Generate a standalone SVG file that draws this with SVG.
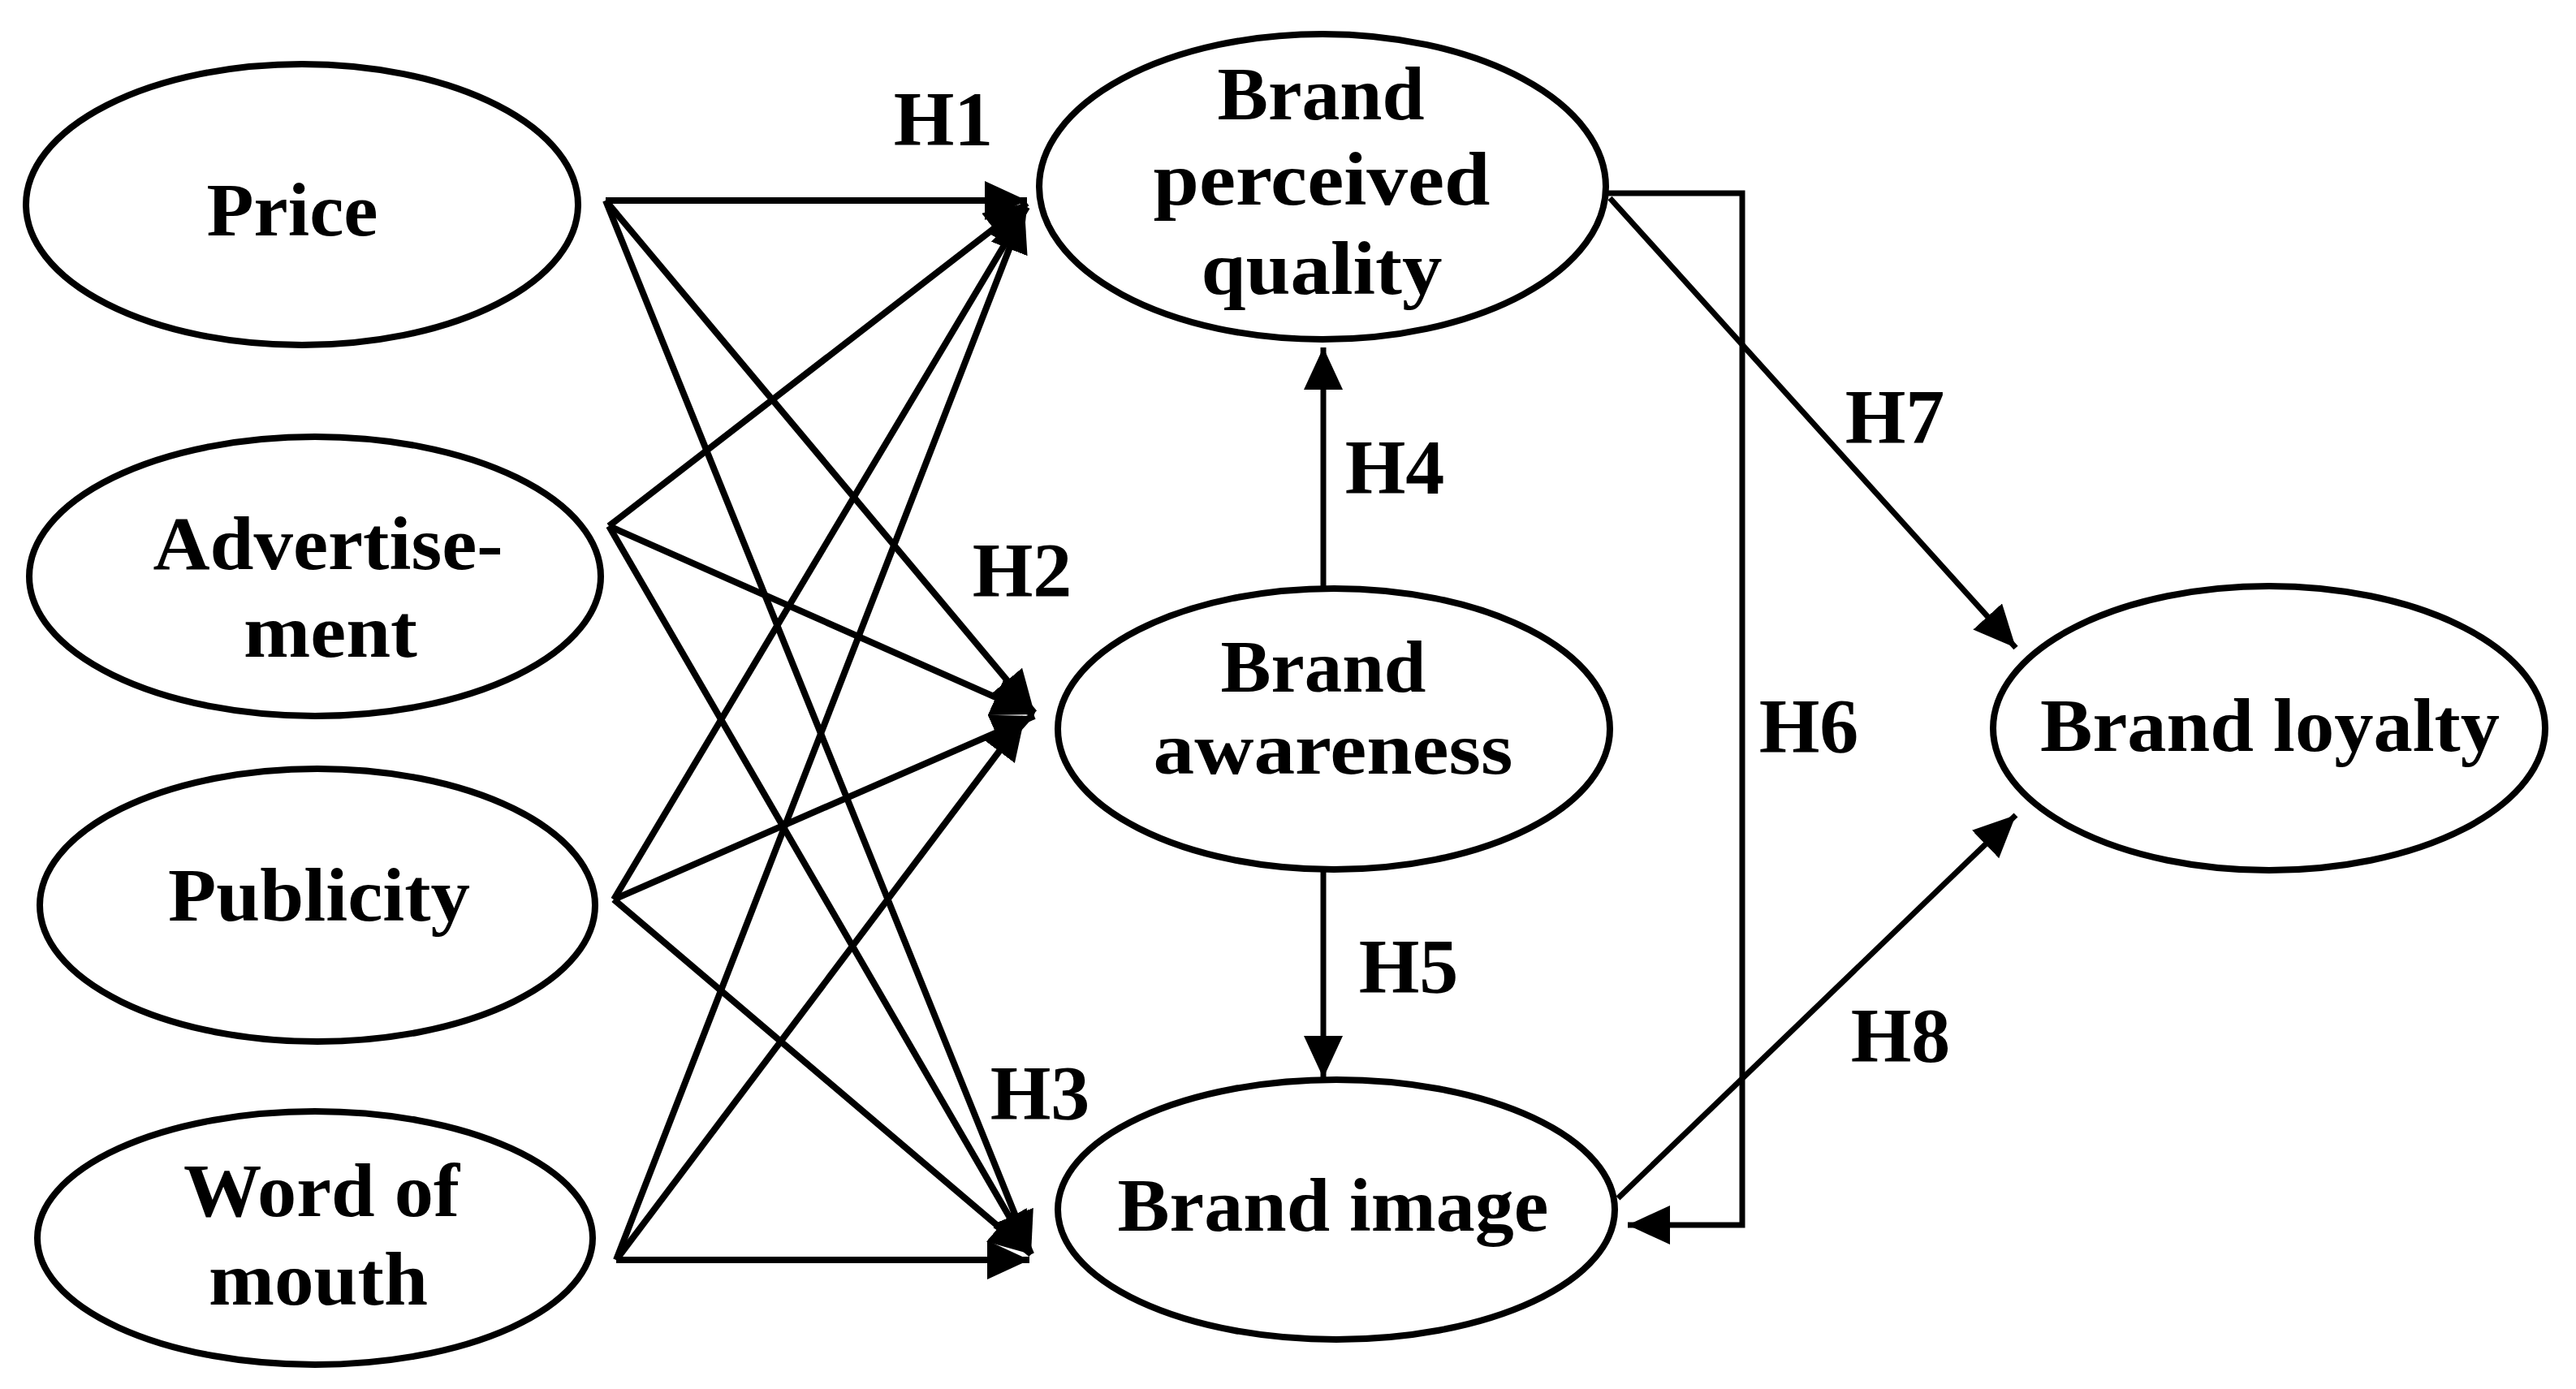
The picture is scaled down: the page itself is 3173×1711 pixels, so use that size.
<svg xmlns="http://www.w3.org/2000/svg" width="3173" height="1711" viewBox="0 0 3173 1711">
<style>
.node ellipse{fill:#fff;stroke:#000;stroke-width:8}
.node text{font-family:"Liberation Serif","Times New Roman",serif;font-weight:bold;font-size:94px;fill:#000;text-anchor:middle}
.node text.tight{font-size:90px}
.lbl{font-family:"Liberation Serif","Times New Roman",serif;font-weight:bold;font-size:96px;fill:#000;text-anchor:middle}
.conn line,.conn polyline{stroke:#000;stroke-width:8;fill:none;marker-end:url(#arr)}
.conn .thin{stroke-width:7}
</style>
<defs>
<marker id="arr" markerUnits="userSpaceOnUse" markerWidth="54" markerHeight="50" refX="52" refY="24" orient="auto">
<path d="M0,0 L52,24 L0,48 z" fill="#000"/>
</marker>
</defs>
<rect width="3173" height="1711" fill="#fff"/>
<g id="connectors" class="conn">
<line x1="746" y1="247" x2="1265" y2="247"/>
<line x1="746" y1="247" x2="1274" y2="878"/>
<line x1="746" y1="247" x2="1270" y2="1545"/>
<line x1="750" y1="648" x2="1265" y2="250"/>
<line x1="750" y1="648" x2="1274" y2="880"/>
<line x1="750" y1="648" x2="1270" y2="1545"/>
<line x1="756" y1="1108" x2="1265" y2="255"/>
<line x1="756" y1="1108" x2="1274" y2="882"/>
<line x1="756" y1="1108" x2="1270" y2="1545"/>
<line x1="759" y1="1552" x2="1262" y2="258"/>
<line x1="759" y1="1552" x2="1262" y2="884"/>
<line x1="759" y1="1552" x2="1268" y2="1552"/>
<line class="thin" x1="1630" y1="722" x2="1630" y2="428"/>
<line class="thin" x1="1630" y1="1073" x2="1630" y2="1328"/>
<polyline class="thin" points="1980,238 2146,238 2146,1509 2005,1509"/>
<line class="thin" x1="1983" y1="244" x2="2483" y2="798"/>
<line class="thin" x1="1993" y1="1476" x2="2483" y2="1004"/>
</g>
<g id="price" class="node">
<ellipse cx="372" cy="252" rx="340" ry="173"/>
<text x="360" y="290" textLength="211" lengthAdjust="spacingAndGlyphs">Price</text>
</g>
<g id="advertisement" class="node">
<ellipse cx="388" cy="710" rx="352" ry="172"/>
<text x="404" y="701" textLength="431" lengthAdjust="spacingAndGlyphs">Advertise-</text>
<text x="407" y="809" textLength="214" lengthAdjust="spacingAndGlyphs">ment</text>
</g>
<g id="publicity" class="node">
<ellipse cx="391" cy="1115" rx="342" ry="168"/>
<text x="393" y="1134" textLength="372" lengthAdjust="spacingAndGlyphs">Publicity</text>
</g>
<g id="wordofmouth" class="node">
<ellipse cx="388" cy="1525" rx="342" ry="156"/>
<text x="396" y="1498" textLength="340" lengthAdjust="spacingAndGlyphs">Word of</text>
<text x="392" y="1607" textLength="270" lengthAdjust="spacingAndGlyphs">mouth</text>
</g>
<g id="perceivedquality" class="node">
<ellipse cx="1629" cy="230" rx="349" ry="188"/>
<text x="1627" y="147" textLength="255" lengthAdjust="spacingAndGlyphs">Brand</text>
<text x="1628" y="252" textLength="415" lengthAdjust="spacingAndGlyphs">perceived</text>
<text x="1628" y="362" textLength="297" lengthAdjust="spacingAndGlyphs">quality</text>
</g>
<g id="awareness" class="node">
<ellipse cx="1643" cy="898" rx="340" ry="173"/>
<text class="tight" x="1630" y="852" textLength="253" lengthAdjust="spacingAndGlyphs">Brand</text>
<text class="tight" x="1642" y="953" textLength="443" lengthAdjust="spacingAndGlyphs">awareness</text>
</g>
<g id="image" class="node">
<ellipse cx="1646" cy="1490" rx="343" ry="160"/>
<text x="1642" y="1516" textLength="531" lengthAdjust="spacingAndGlyphs">Brand image</text>
</g>
<g id="loyalty" class="node">
<ellipse cx="2795" cy="897" rx="340" ry="175"/>
<text x="2796" y="925" textLength="566" lengthAdjust="spacingAndGlyphs">Brand loyalty</text>
</g>
<g id="labels">
<text class="lbl" x="1162" y="179">H1</text>
<text class="lbl" x="1259" y="735">H2</text>
<text class="lbl" x="1281" y="1379">H3</text>
<text class="lbl" x="1718" y="608">H4</text>
<text class="lbl" x="1735" y="1223">H5</text>
<text class="lbl" x="2228" y="927">H6</text>
<text class="lbl" x="2334" y="546">H7</text>
<text class="lbl" x="2341" y="1308">H8</text>
</g>
</svg>
